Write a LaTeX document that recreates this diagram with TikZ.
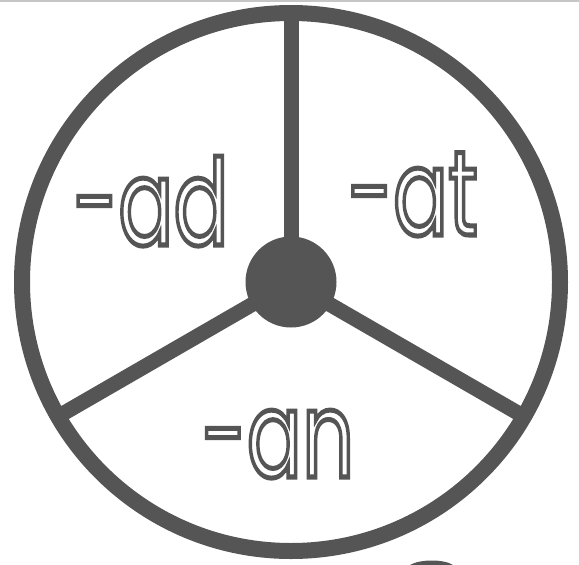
\documentclass[tikz,border=0pt]{standalone}
\usepackage{fontspec}
\usetikzlibrary{calc}
\setmainfont{Poppins}
\definecolor{ink}{RGB}{85,85,85}
\newcommand\hollowtext[1]{\special{pdf:literal direct 1 Tr 5 w 0.333 0.333 0.333 RG}#1\special{pdf:literal direct 0 Tr}}
\tikzset{
  ring/.style={draw=ink, line width=16pt},
  spoke/.style={draw=ink, line width=15pt},
  hub/.style={circle, fill=ink, minimum size=91pt, inner sep=0pt},
  word/.style={text=ink, anchor=base, inner sep=0pt, xscale=0.68, font=\fontsize{120}{120}\selectfont},
}
\begin{document}
\begin{tikzpicture}[x=1pt,y=-1pt]
\useasboundingbox (0,0) rectangle (579,565);
\fill[white] (0,0) rectangle (579,565);
\draw[gray!45, line width=1.5pt] (0,1) -- (579,1);
\coordinate (c) at (291,282);
\coordinate (pt) at ($(c)+(0,-269)$);
\coordinate (pl) at ($(c)+({-269*cos(30)},{269*sin(30)})$);
\coordinate (pr) at ($(c)+({269*cos(30)},{269*sin(30)})$);
\draw[spoke] (c) -- (pt);
\draw[spoke] (c) -- (pl);
\draw[spoke] (c) -- (pr);
\draw[ring] (c) circle[radius=269];
\node[hub] (h) at (c) {};
\node[word] (ad) at (151,245) {\hollowtext{-ad}};
\node[word] (at) at (413,235) {\hollowtext{-at}};
\node[word] (an) at (278,477) {\hollowtext{-an}};
\fill[ink] (410,565) .. controls (420,559) and (444,559) .. (453,565) -- cycle;
\end{tikzpicture}
\end{document}
